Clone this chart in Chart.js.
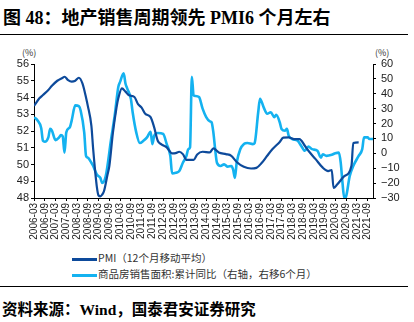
<!DOCTYPE html>
<html lang="zh">
<head>
<meta charset="UTF-8">
<title>地产销售周期领先 PMI</title>
<script src="https://cdn.jsdelivr.net/npm/chart.js"></script>
<style>
  body { margin: 0; width: 414px; height: 322px; background: #fff; position: relative; overflow: hidden; }
  .title { position: absolute; left: 3px; top: 3px; font: bold 18px "Liberation Serif", "Noto Sans CJK SC"; color: #000; white-space: nowrap; }
  .rule { position: absolute; left: 0; width: 408px; height: 1px; background: #000; }
  .unit { position: absolute; top: 46px; font: 9px "Noto Sans CJK SC"; color: #333; }
  .legend { position: absolute; left: 72px; font: 10.5px "Noto Sans CJK SC"; color: #333; white-space: nowrap; }
  .legend span { display: inline-block; width: 25px; height: 3px; vertical-align: middle; margin-right: 1px; }
  .source { position: absolute; left: 2px; top: 297px; font: bold 15.5px "Liberation Serif", "Noto Sans CJK SC"; color: #000; white-space: nowrap; }
  #wrap { position: absolute; left: 0; top: 40px; width: 414px; height: 206px; }
</style>
</head>
<body>
<div class="title">图 48：地产销售周期领先 PMI6 个月左右</div>
<div class="rule" style="top:34px"></div>
<div class="unit" style="left:22px">(%)</div>
<div class="unit" style="left:375px">(%)</div>
<div id="wrap"><canvas id="chart"></canvas></div>
<div class="legend" style="top:250px"><span style="background:#0d4a9b"></span>PMI（12个月移动平均）</div>
<div class="legend" style="top:266px"><span style="background:#14b2f0"></span>商品房销售面积:累计同比（右轴，右移6个月）</div>
<div class="rule" style="top:286px"></div>
<div class="source">资料来源：Wind，国泰君安证券研究</div>

<script>
// x = months since 2006-03
const xTickLabels = ['2006-03','2006-09','2007-03','2007-09','2008-03','2008-09','2009-03','2009-09',
  '2010-03','2010-09','2011-03','2011-09','2012-03','2012-09','2013-03','2013-09','2014-03','2014-09',
  '2015-03','2015-09','2016-03','2016-09','2017-03','2017-09','2018-03','2018-09','2019-03','2019-09',
  '2020-03','2020-09','2021-03','2021-09'];

const pmiMonths = [0,3,5,8,10,13,16,17,19,21,23,25,27,29,30,32,33,35,36,37,38,39,41,42,44,46,47,49,51,53,
  56,58,60,62,65,67,69,71,74,77,79,81,83,85,89,91,94,98,100,103,107,110,113,117,121,124,127,130,133,137,
  139,142,145,148,151,153,157,161,164,166,167,169,173,177,178,181];
const pmiValues = [53.5,53.95,54.15,54.45,54.7,55.0,55.18,55.24,55.04,54.95,55.0,55.18,54.84,54.0,53.5,52.3,50.9,48.7,48.15,48.1,48.2,48.4,49.4,49.9,
  51.9,53.4,53.95,54.55,54.35,54.13,54.03,53.6,53.4,53.03,52.83,52.22,51.42,51.2,51.02,50.66,50.68,50.76,50.62,50.28,50.28,50.6,
  50.76,50.72,50.96,50.72,50.62,50.52,50.15,49.86,49.76,49.8,50.1,50.52,50.92,51.35,51.6,51.62,51.52,51.52,51.12,50.82,50.32,
  49.81,49.61,49.67,48.6,48.8,49.3,49.92,51.28,51.32];

const salesMonths = [0,2,4,5,6,8,9,10,12,14,15,16,17,18,20,21,23,25,26,28,29,30,32,33,35,37,38,40,43,45,47,48,50,51,52,54,55,
  57,59,61,63,65,66,67,69,72,74,76,77,79,81,83,85,86,87,88,89,90,92,94,96,98,99,100,101,102,104,106,108,110,111,112,113,115,
  117,119,122,123,125,126,128,130,132,134,135,137,138,140,141,142,144,147,149,151,153,155,158,160,161,163,166,168,170,171,172,
  173,174,176,178,181,183,184,186,187,189];
const salesValues = [24.3,22.0,17.0,8.4,7.8,10.7,16.4,15.2,8.9,10.7,12.3,11.5,0.5,14.1,17.5,22.0,32.2,31.7,28.8,14.1,-1.7,-2.9,
  -6.3,-8.5,-14.2,-16.5,-19.9,-15.3,9.6,25.4,44.6,48.0,53.7,46.9,43.5,36.7,27.6,14.1,6.9,8.4,10.7,14.5,6.2,11.8,13.7,13.0,6.2,
  -1.7,-13.5,-13.1,-11.9,-6.3,-1.7,2.8,4.0,51.4,39.0,38.5,37.8,30.0,24.3,21.5,20.9,14.1,2.8,-6.3,-8.5,-7.4,-9.0,-8.5,-10.8,
  -16.5,-6.3,2.8,6.2,6.9,6.2,6.9,27.6,36.7,31.0,26.6,27.6,24.3,25.9,20.9,16.4,15.2,16.4,11.8,9.6,8.4,5.0,1.7,4.6,2.8,1.7,
  -2.9,-0.6,-1.7,-1.0,0.1,0.5,-6.3,-19.9,-30.0,-28.9,-15.3,-8.5,-1.7,2.8,10.7,10.7,9.6,9.6];

const pmiPoints = pmiMonths.map((m, i) => ({ x: m, y: pmiValues[i] }));
const salesPoints = salesMonths.map((m, i) => ({ x: m, y: salesValues[i] }));

const tickFont = { family: 'Liberation Sans', size: 11 };

new Chart(document.getElementById('chart'), {
  type: 'line',
  data: {
    datasets: [
      { label: 'PMI（12个月移动平均）', data: pmiPoints, yAxisID: 'y', borderColor: '#0d4a9b', borderWidth: 2.2, pointRadius: 0, cubicInterpolationMode: 'monotone' },
      { label: '商品房销售面积:累计同比（右轴，右移6个月）', data: salesPoints, yAxisID: 'y1', borderColor: '#14b2f0', borderWidth: 2.6, pointRadius: 0, cubicInterpolationMode: 'monotone' }
    ]
  },
  options: {
    responsive: true,
    maintainAspectRatio: false,
    animation: false,
    layout: { padding: { top: 24, left: 0, right: 0, bottom: 0 } },
    plugins: { legend: { display: false }, tooltip: { enabled: false } },
    scales: {
      x: {
        type: 'linear', min: 0, max: 189,
        afterBuildTicks: s => { s.ticks = xTickLabels.map((l, i) => ({ value: i * 6 })); },
        afterFit: s => { s.height = 48; },
        ticks: {
          autoSkip: false, maxRotation: 90, minRotation: 90, padding: 2, color: '#222',
          font: { family: 'Liberation Sans', size: 10 },
          callback: v => xTickLabels[v / 6]
        },
        grid: { drawOnChartArea: false, tickLength: 3, color: '#000' },
        border: { color: '#000', width: 1 }
      },
      y: {
        position: 'left', min: 48, max: 56,
        afterFit: s => { s.width = 34; },
        ticks: { stepSize: 1, autoSkip: false, padding: 2, color: '#222', font: tickFont },
        grid: { drawOnChartArea: false, tickLength: 3, color: '#000' },
        border: { color: '#000', width: 1 }
      },
      y1: {
        position: 'right', min: -30, max: 60,
        afterFit: s => { s.width = 41; },
        ticks: { stepSize: 10, autoSkip: false, padding: 5, color: '#222', font: tickFont, callback: v => String(v).replace('-', '−') },
        grid: { drawOnChartArea: false, tickLength: 3, color: '#000' },
        border: { color: '#000', width: 1 }
      }
    }
  }
});
</script>
</body>
</html>
